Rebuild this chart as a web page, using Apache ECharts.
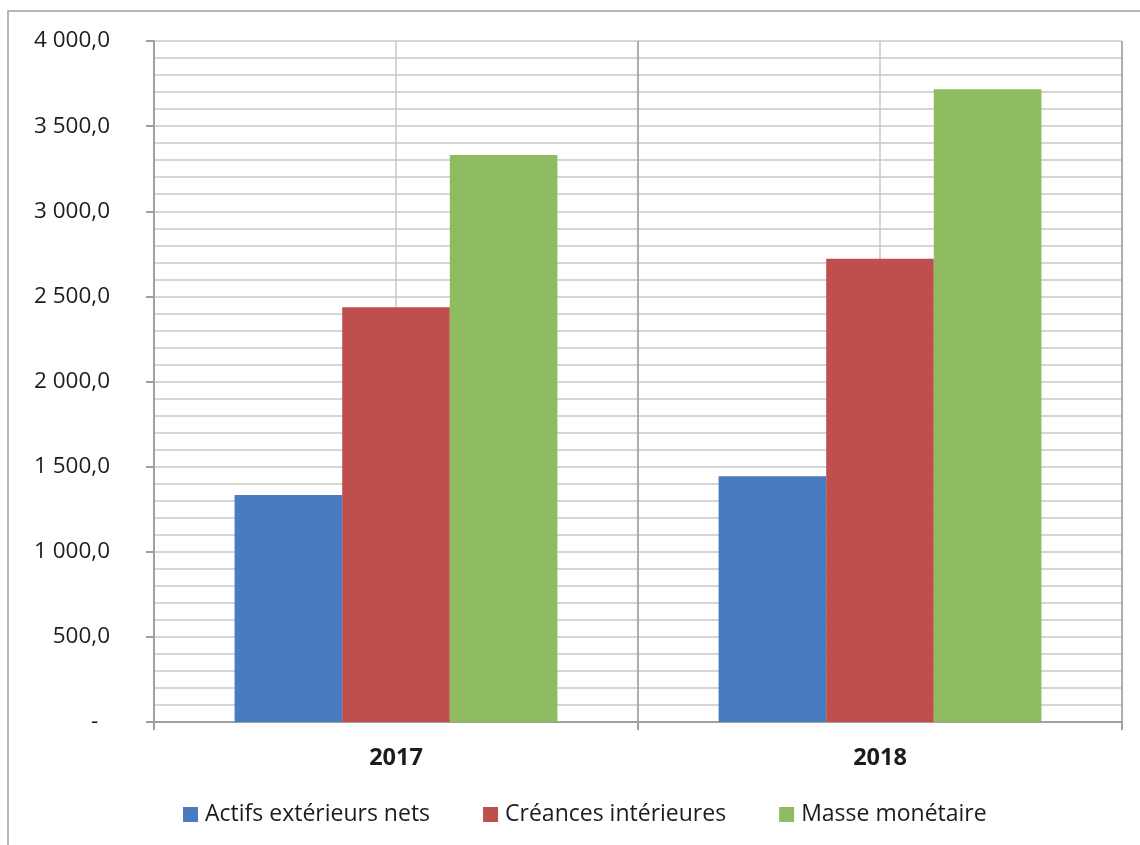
<!DOCTYPE html>
<html>
<head>
<meta charset="utf-8">
<title>Actifs extérieurs nets, créances intérieures et masse monétaire</title>
<script src="https://cdn.jsdelivr.net/npm/echarts@6/dist/echarts.min.js"></script>
<style>
  html, body { margin: 0; padding: 0; background: #ffffff; }
  #chart { width: 1140px; height: 845px; }
</style>
</head>
<body>
<div id="chart"></div>
<script>
// Years on the category axis
const years = ['2017', '2018'];

// Series values
const actifsExterieursNets = [1333, 1443];
const creancesInterieures = [2436, 2721];
const masseMonetaire = [3330, 3716];

// Series names shown in the legend
const seriesNames = ['Actifs extérieurs nets', 'Créances intérieures', 'Masse monétaire'];

// Value axis range and step
const yMin = 0;
const yMax = 4000;
const yStep = 500;

const FONT = '"Open Sans", "Noto Sans", sans-serif';
const TEXT = '#1c1c1c';
const AXIS_GREY = '#a0a0a0';
const GRID_GREY = '#c8c8c8';

// "4 000,0" style: space as thousands separator, comma decimal, dash for zero
function formatValue(v) {
  if (v === 0) return '-  ';
  const parts = v.toFixed(1).split('.');
  const intPart = parts[0].replace(/\B(?=(\d{3})+(?!\d))/g, ' ');
  return intPart + ',' + parts[1];
}

const chart = echarts.init(document.getElementById('chart'), null, { renderer: 'canvas' });

chart.setOption({
  animation: false,
  backgroundColor: '#ffffff',
  color: ['#487BC0', '#BE4F4D', '#8FBB61'],
  graphic: [{
    type: 'rect',
    shape: { x: 8, y: 11, width: 1300, height: 1000 },
    style: { fill: 'none', stroke: AXIS_GREY, lineWidth: 1.5 },
    silent: true,
    z: -1
  }],
  grid: { left: 154, right: 18, top: 41, bottom: 123, containLabel: false },
  legend: {
    left: 178,
    top: 798,
    itemWidth: 15,
    itemHeight: 15,
    itemGap: 53,
    icon: 'rect',
    textStyle: { fontFamily: FONT, fontSize: 23, color: TEXT, padding: [0, 0, 0, 2] },
    data: seriesNames
  },
  xAxis: [{
    type: 'category',
    data: years,
    boundaryGap: true,
    z: 1,
    axisLine: { show: true, lineStyle: { color: AXIS_GREY, width: 2 } },
    axisTick: { show: true, length: 8, lineStyle: { color: AXIS_GREY, width: 2 } },
    splitLine: { show: true, lineStyle: { color: AXIS_GREY, width: 1.5 } },
    axisLabel: {
      fontFamily: FONT, fontSize: 23.5, fontWeight: 'bold', color: TEXT, margin: 24
    }
  }, {
    // Secondary axis that only draws the vertical grid through category centres
    type: 'value',
    min: 0,
    max: 4,
    interval: 1,
    position: 'bottom',
    z: 0,
    axisLine: { show: false },
    axisTick: { show: false },
    axisLabel: { show: false },
    splitLine: { show: true, lineStyle: { color: GRID_GREY, width: 1.5 } }
  }],
  yAxis: {
    type: 'value',
    min: yMin,
    max: yMax,
    interval: yStep,
    z: 1,
    axisLine: { show: true, lineStyle: { color: AXIS_GREY, width: 2 } },
    axisTick: { show: true, length: 8, lineStyle: { color: AXIS_GREY, width: 2 } },
    splitLine: { show: true, lineStyle: { color: GRID_GREY, width: 1.5 } },
    minorTick: { show: false, splitNumber: 5 },
    minorSplitLine: { show: true, lineStyle: { color: GRID_GREY, width: 1.5 } },
    axisLabel: {
      fontFamily: FONT, fontSize: 22.5, color: TEXT, margin: 44,
      formatter: formatValue
    }
  },
  series: [{
    name: seriesNames[0],
    type: 'bar',
    xAxisIndex: 0,
    data: actifsExterieursNets,
    barGap: '0%',
    barCategoryGap: '33.3%'
  }, {
    name: seriesNames[1],
    type: 'bar',
    xAxisIndex: 0,
    data: creancesInterieures,
    barGap: '0%',
    barCategoryGap: '33.3%'
  }, {
    name: seriesNames[2],
    type: 'bar',
    xAxisIndex: 0,
    data: masseMonetaire,
    barGap: '0%',
    barCategoryGap: '33.3%'
  }]
});
</script>
</body>
</html>
